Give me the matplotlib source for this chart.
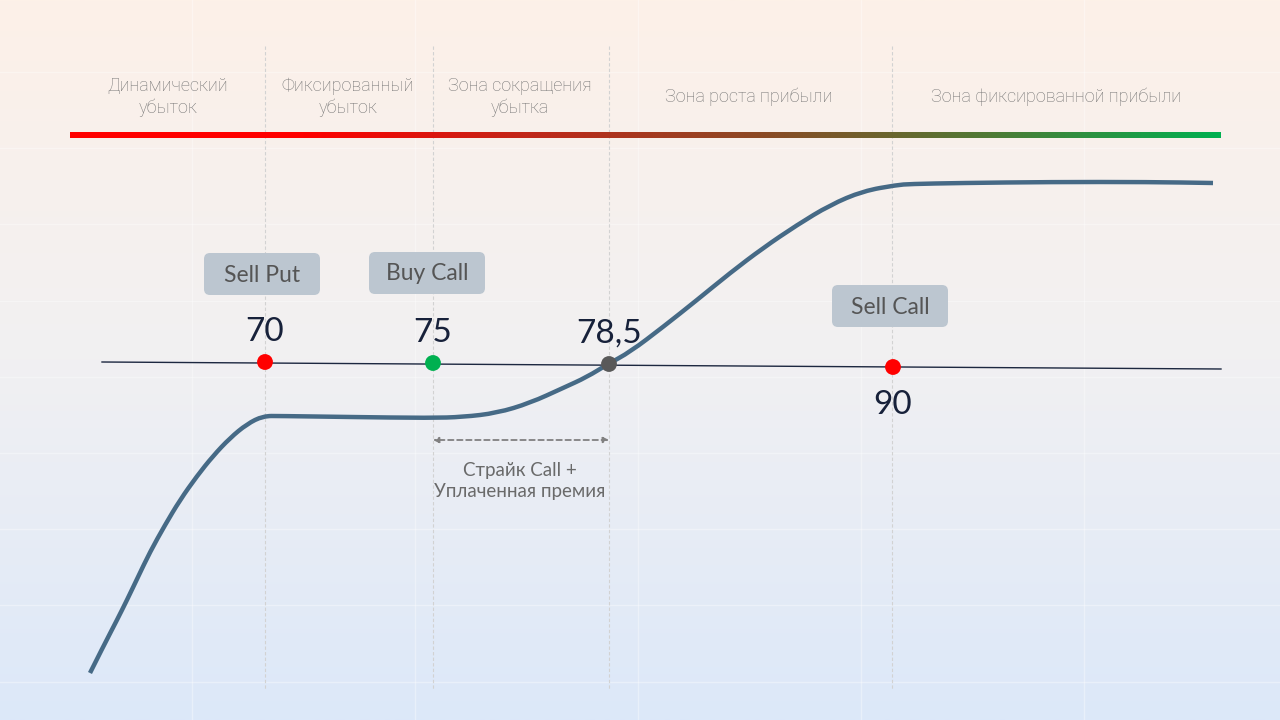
import numpy as np
import matplotlib
matplotlib.use("Agg")
import matplotlib.pyplot as plt
from matplotlib.colors import LinearSegmentedColormap
from matplotlib.patches import FancyBboxPatch, PathPatch
from matplotlib.path import Path

# diagram coordinates (schematic canvas, y grows downward)
curve_x = [90, 103, 117, 127, 138, 150, 165, 180, 197, 213, 230, 247, 263, 280, 350, 430,
           463, 497, 530, 563, 587, 608, 630, 663, 697, 730, 763, 797, 830, 863, 897,
           910, 960, 1050, 1150, 1213]
curve_y = [673, 647, 620, 600, 577, 552, 525, 500, 476, 456, 438, 424, 416, 416, 417, 418,
           417, 413, 403, 388, 377, 364, 352, 327, 300, 273, 248, 225, 205, 191, 185,
           184, 183, 182, 182, 183]

strike_x = [265, 433, 609, 893]
strike_y = [362, 363, 364, 367]
strike_labels = ["70", "75", "78,5", "90"]
strike_colors = ["#ff0000", "#00b050", "#595959", "#ff0000"]

legs = ["Sell Put", "Buy Call", "Sell Call"]
leg_x = [262, 427, 890]
leg_y = [274, 273, 306]

zone_labels = ["Динамический\nубыток", "Фиксированный\nубыток", "Зона сокращения\nубытка",
               "Зона роста прибыли", "Зона фиксированной прибыли"]
zone_x = [168, 348, 520, 749, 1056]
zone_dividers = [265, 433, 609, 892]

fig = plt.figure(figsize=(12.8, 7.2), dpi=100)
ax = fig.add_axes([0, 0, 1, 1])
ax.set_xlim(0, 1280)
ax.set_ylim(720, 0)

# background gradient peach -> light blue
bg = LinearSegmentedColormap.from_list("bg", ["#fdf1e8", "#f1f0f2", "#dce8f9"])
ax.imshow(np.linspace(0, 1, 256).reshape(-1, 1), cmap=bg, aspect="auto",
          extent=[0, 1280, 720, 0], zorder=0)

# faint white grid
ax.set_xticks(np.arange(192, 1280, 223))
ax.set_yticks(np.arange(72, 720, 76.2))
ax.grid(True, color="white", linewidth=1.0, alpha=0.35, zorder=1)
ax.tick_params(length=0, labelbottom=False, labelleft=False)
for s in ax.spines.values():
    s.set_visible(False)

# zone dividers
for x in zone_dividers:
    ax.plot([x, x], [46, 690], color="#d2d2d2", lw=0.8, ls=(0, (3, 2)), zorder=2)

# red -> green bar
bar = LinearSegmentedColormap.from_list("bar", ["#ff0000", "#ff0000", "#c0281a", "#8c4a25",
                                                "#4f7a35", "#00b050"])
ax.imshow(np.linspace(0, 1, 512).reshape(1, -1), cmap=bar, aspect="auto",
          extent=[70, 1221, 138, 132], zorder=3)

for lab, x in zip(zone_labels, zone_x):
    ax.text(x, 97, lab, ha="center", va="center", fontsize=13, color="#747474",
            family="Roboto", fontweight="light", linespacing=1.3, zorder=4)

# zero line
ax.plot([102, 1221], [362, 369], color="#1c2740", lw=1.0, zorder=3)

# payoff curve, smoothed with quadratic segments through the read points
pts = np.column_stack([curve_x, curve_y]).astype(float)
verts = [pts[0]]
codes = [Path.MOVETO]
for i in range(1, len(pts) - 1):
    verts += [pts[i], (pts[i] + pts[i + 1]) / 2]
    codes += [Path.CURVE3, Path.CURVE3]
verts.append(pts[-1])
codes.append(Path.LINETO)
ax.add_patch(PathPatch(Path(verts, codes), fc="none", ec="#466a86", lw=3.2,
                       capstyle="butt", zorder=5))

# strikes
ax.scatter(strike_x, strike_y, s=130, c=strike_colors, zorder=6, linewidths=0)
for x, y, lab in zip(strike_x, strike_y, strike_labels):
    dy = 38 if lab == "90" else -30
    ax.text(x, y + dy, lab, ha="center", va="center", fontsize=24, color="#17213a",
            family="Lato", zorder=6)

# leg boxes
for lab, x, y in zip(legs, leg_x, leg_y):
    ax.add_patch(FancyBboxPatch((x - 52, y - 15), 104, 30,
                                boxstyle="round,pad=6,rounding_size=6",
                                fc="#bcc6d0", ec="none", zorder=4))
    ax.text(x, y + 1, lab, ha="center", va="center", fontsize=16.5, color="#555555",
            family="Lato", zorder=5)

# break-even arrow
ax.annotate("", xy=(433, 440), xytext=(609, 440),
            arrowprops=dict(arrowstyle="<|-|>", color="#808080", lw=1.3, ls=(0, (3, 2)),
                            mutation_scale=8, shrinkA=0, shrinkB=0), zorder=4)
ax.text(520, 481, "Страйк Call +\nУплаченная премия", ha="center", va="center",
        fontsize=13.5, color="#6a6a6a", family="Lato", linespacing=1.35, zorder=4)

fig.savefig("out.png", dpi=100)
